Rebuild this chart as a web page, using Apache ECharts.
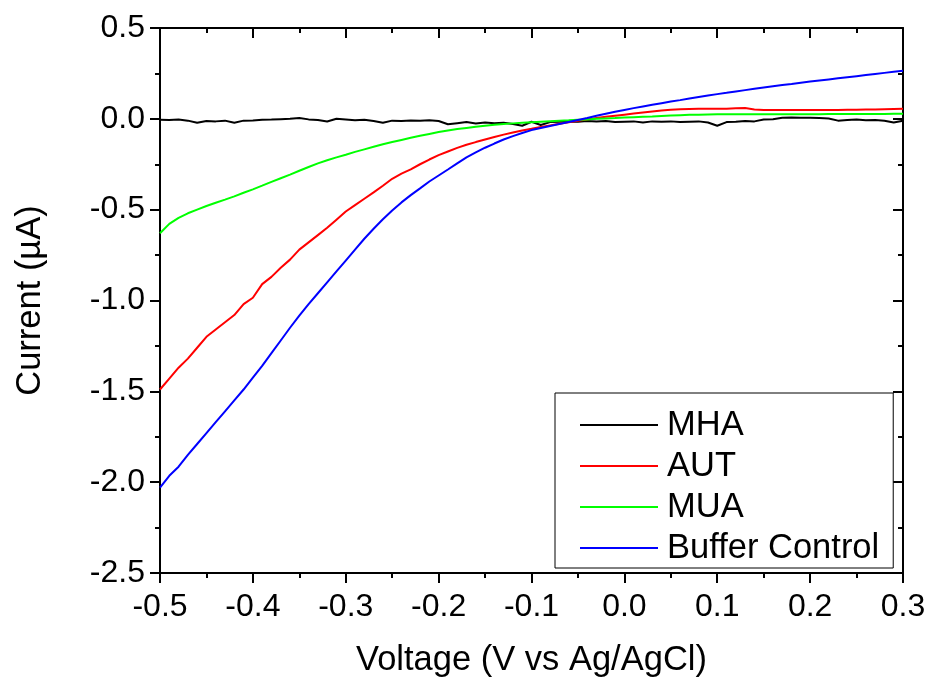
<!DOCTYPE html>
<html>
<head>
<meta charset="utf-8">
<script src="https://cdn.jsdelivr.net/npm/echarts@6/dist/echarts.min.js"></script>
<style>
html,body{margin:0;padding:0;background:#fff;}
#chart{width:928px;height:681px;}
</style>
</head>
<body>
<div id="chart"></div>
<script>
// Voltage (V vs Ag/AgCl), step 0.01 V from -0.50 to 0.30
const voltage = [];
for (let i = 0; i <= 80; i++) voltage.push(+(-0.5 + i * 0.01).toFixed(2));

const seriesNames = ['MHA', 'AUT', 'MUA', 'Buffer Control'];

const mha = [
  -0.005,-0.006,-0.004,-0.010,-0.022,-0.012,-0.014,-0.010,-0.022,-0.010,
  -0.009,-0.005,-0.004,-0.002,0.000,0.004,-0.003,-0.006,-0.015,0.000,
  -0.004,-0.008,-0.005,-0.012,-0.022,-0.010,-0.012,-0.009,-0.010,-0.008,
  -0.012,-0.030,-0.024,-0.018,-0.026,-0.020,-0.024,-0.022,-0.028,-0.038,
  -0.016,-0.034,-0.018,-0.016,-0.014,-0.016,-0.012,-0.014,-0.012,-0.018,
  -0.016,-0.014,-0.020,-0.014,-0.016,-0.014,-0.018,-0.016,-0.014,-0.020,
  -0.038,-0.018,-0.016,-0.012,-0.014,-0.004,-0.002,0.006,0.008,0.006,
  0.006,0.004,0.002,-0.010,-0.006,-0.004,-0.008,-0.006,-0.010,-0.020,
  -0.010
];

const aut = [
  -1.49,-1.43,-1.37,-1.32,-1.26,-1.20,-1.16,-1.12,-1.08,-1.02,
  -0.985,-0.91,-0.87,-0.82,-0.775,-0.72,-0.68,-0.64,-0.60,-0.555,
  -0.51,-0.475,-0.44,-0.405,-0.368,-0.33,-0.302,-0.278,-0.25,-0.224,
  -0.20,-0.18,-0.16,-0.143,-0.128,-0.114,-0.100,-0.087,-0.075,-0.064,
  -0.055,-0.045,-0.036,-0.027,-0.019,-0.011,-0.004,0.004,0.011,0.017,
  0.023,0.029,0.035,0.041,0.046,0.050,0.053,0.054,0.055,0.055,
  0.055,0.056,0.058,0.059,0.052,0.049,0.048,0.048,0.048,0.048,
  0.048,0.048,0.048,0.049,0.050,0.050,0.051,0.052,0.053,0.054,
  0.055
];

const mua = [
  -0.63,-0.578,-0.545,-0.52,-0.50,-0.48,-0.462,-0.445,-0.427,-0.407,
  -0.388,-0.368,-0.347,-0.327,-0.307,-0.286,-0.265,-0.245,-0.228,-0.212,
  -0.198,-0.182,-0.168,-0.154,-0.140,-0.128,-0.116,-0.104,-0.093,-0.083,
  -0.073,-0.064,-0.056,-0.050,-0.044,-0.038,-0.033,-0.029,-0.025,-0.022,
  -0.019,-0.016,-0.013,-0.010,-0.008,-0.005,-0.003,0.000,0.002,0.004,
  0.007,0.009,0.011,0.013,0.016,0.018,0.020,0.022,0.023,0.024,
  0.025,0.025,0.025,0.025,0.025,0.025,0.025,0.025,0.025,0.025,
  0.025,0.025,0.026,0.026,0.026,0.026,0.027,0.027,0.027,0.028,
  0.028
];

const buffer = [
  -2.03,-1.965,-1.915,-1.85,-1.79,-1.73,-1.67,-1.61,-1.55,-1.49,
  -1.425,-1.36,-1.29,-1.22,-1.15,-1.083,-1.02,-0.96,-0.90,-0.84,
  -0.78,-0.72,-0.66,-0.605,-0.553,-0.505,-0.46,-0.42,-0.383,-0.345,
  -0.312,-0.279,-0.245,-0.212,-0.185,-0.159,-0.136,-0.114,-0.095,-0.078,
  -0.062,-0.050,-0.039,-0.028,-0.017,-0.006,0.005,0.017,0.028,0.039,
  0.049,0.059,0.068,0.077,0.086,0.095,0.103,0.112,0.120,0.128,
  0.136,0.143,0.151,0.158,0.165,0.172,0.179,0.186,0.192,0.199,
  0.205,0.211,0.217,0.223,0.229,0.235,0.241,0.247,0.253,0.259,
  0.265
];

const xTicks = { min: -0.5, max: 0.3, interval: 0.1 };
const yTicks = { min: -2.5, max: 0.5, interval: 0.5 };

const colors = ['#000000', '#ff0000', '#00ff00', '#0000ff'];
const FONT = 'Liberation Sans, Arial, sans-serif';

const chart = echarts.init(document.getElementById('chart'), null, { renderer: 'canvas' });

function pairs(arr) { return voltage.map((v, i) => [v, arr[i]]); }

const axisLine = { show: true, onZero: false, lineStyle: { color: '#000', width: 2 } };
const fmt = v => (Math.abs(v) < 1e-9 ? 0 : v).toFixed(1);

const option = {
  animation: false,
  backgroundColor: '#fff',
  grid: { left: 160, right: 25, top: 28, bottom: 108, containLabel: false, outerBoundsMode: 'none' },
  legend: {
    orient: 'vertical',
    left: 555,
    top: 393,
    data: seriesNames,
    icon: 'path://M0,0H78V2H0Z',
    backgroundColor: '#fff',
    borderColor: '#000',
    borderWidth: 1,
    borderRadius: 0,
    padding: [14, 14, 2, 25],
    itemWidth: 78,
    itemHeight: 2,
    itemGap: 5,
    textStyle: { fontFamily: FONT, fontSize: 34.5, color: '#000', lineHeight: 36, padding: [0, 0, 0, 4] }
  },
  xAxis: [
    {
      type: 'value', position: 'bottom', min: xTicks.min, max: xTicks.max, interval: xTicks.interval,
      axisLine: axisLine,
      axisTick: { show: true, inside: false, length: 10, lineStyle: { color: '#000', width: 2 } },
      minorTick: { show: true, splitNumber: 2, length: 5, lineStyle: { color: '#000', width: 2 } },
      splitLine: { show: false },
      axisLabel: { fontFamily: FONT, fontSize: 32, color: '#000', margin: 18, formatter: fmt },
      name: 'Voltage (V vs Ag/AgCl)', nameLocation: 'middle', nameGap: 70,
      nameTextStyle: { fontFamily: FONT, fontSize: 34.5, color: '#000' }
    },
    {
      type: 'value', position: 'top', min: xTicks.min, max: xTicks.max, interval: xTicks.interval,
      axisLine: axisLine,
      axisTick: { show: true, inside: true, length: 10, lineStyle: { color: '#000', width: 2 } },
      minorTick: { show: true, splitNumber: 2, length: 5, lineStyle: { color: '#000', width: 2 } },
      splitLine: { show: false },
      axisLabel: { show: false }
    }
  ],
  yAxis: [
    {
      type: 'value', position: 'left', min: yTicks.min, max: yTicks.max, interval: yTicks.interval,
      axisLine: axisLine,
      axisTick: { show: true, inside: false, length: 10, lineStyle: { color: '#000', width: 2 } },
      minorTick: { show: true, splitNumber: 2, length: 5, lineStyle: { color: '#000', width: 2 } },
      splitLine: { show: false },
      axisLabel: { fontFamily: FONT, fontSize: 32, color: '#000', margin: 15, formatter: fmt },
      name: 'Current (\u00b5A)', nameLocation: 'middle', nameGap: 112,
      nameTextStyle: { fontFamily: FONT, fontSize: 34.5, color: '#000' }
    },
    {
      type: 'value', position: 'right', min: yTicks.min, max: yTicks.max, interval: yTicks.interval,
      axisLine: axisLine,
      axisTick: { show: true, inside: true, length: 10, lineStyle: { color: '#000', width: 2 } },
      minorTick: { show: true, splitNumber: 2, length: 5, lineStyle: { color: '#000', width: 2 } },
      splitLine: { show: false },
      axisLabel: { show: false }
    }
  ],
  series: [
    { name: seriesNames[0], data: pairs(mha) },
    { name: seriesNames[1], data: pairs(aut) },
    { name: seriesNames[2], data: pairs(mua) },
    { name: seriesNames[3], data: pairs(buffer) }
  ].map((s, i) => Object.assign(s, {
    type: 'line', xAxisIndex: 0, yAxisIndex: 0, symbol: 'none', smooth: false,
    color: colors[i],
    lineStyle: { color: colors[i], width: 2 },
    z: 2
  }))
};

chart.setOption(option);
</script>
</body>
</html>
